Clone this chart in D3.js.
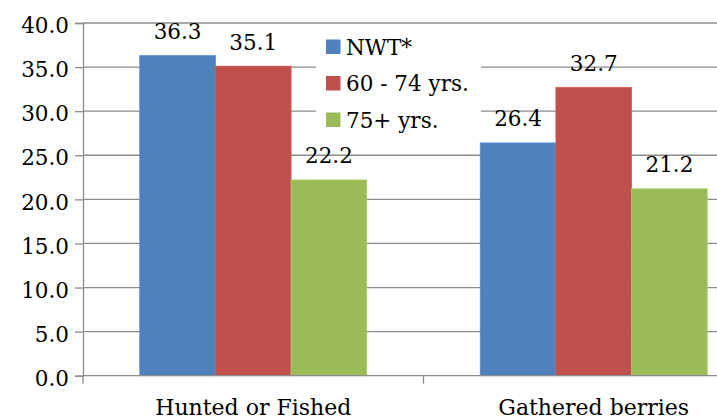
<!DOCTYPE html>
<html><head><meta charset="utf-8">
<script src="https://cdn.jsdelivr.net/npm/d3@7"></script>
<style>html,body{margin:0;padding:0;background:#fff;overflow:hidden}svg{display:block}</style>
</head><body>
<script>
const categories = ["Hunted or Fished", "Gathered berries"];
const seriesNames = ["NWT*", "60 - 74 yrs.", "75+ yrs."];
const nwt = [36.3, 26.4];
const age60to74 = [35.1, 32.7];
const age75plus = [22.2, 21.2];
const yTicks = [0, 5, 10, 15, 20, 25, 30, 35, 40];
const colors = ["#4F81BD", "#C0504D", "#9BBB59"];
const seriesValues = [nwt, age60to74, age75plus];

(function () {
const W = 717, H = 420;
const svg = d3.select("body").append("svg").attr("width", W).attr("height", H);
const font = "'DejaVu Serif', serif";
const fs = 21.5;
const pLeft = 83, pRight = 764, pTop = 23, pBottom = 375.7;

const y = d3.scaleLinear().domain([0, 40]).range([pBottom, pTop]);
const x0 = d3.scaleBand().domain(categories).range([pLeft, pRight]).paddingInner(0.3333).paddingOuter(0.16667);
const x1 = d3.scaleBand().domain(seriesNames).range([0, x0.bandwidth()]);

// gridlines
svg.append("g").selectAll("line").data(yTicks.filter(d => d > 0)).join("line")
  .attr("x1", pLeft).attr("x2", pRight).attr("y1", d => y(d)).attr("y2", d => y(d))
  .attr("stroke", "#8c8c8c").attr("stroke-width", 1.3);

// y axis
const yAxis = d3.axisLeft(y).tickValues(yTicks).tickFormat(d3.format(".1f")).tickSize(8).tickPadding(6);
const gy = svg.append("g").attr("transform", `translate(${pLeft},0)`).call(yAxis);
gy.select(".domain").attr("stroke", "#8c8c8c").attr("stroke-width", 1.3);
gy.selectAll(".tick line").attr("stroke", "#8c8c8c").attr("stroke-width", 1.3);
gy.selectAll("text").attr("font-family", font).attr("font-size", fs).attr("fill", "#000").attr("dy", "0.45em");

// bars
const groups = svg.append("g").selectAll("g").data(categories).join("g")
  .attr("transform", d => `translate(${x0(d)},0)`);
groups.each(function(cat, ci) {
  const g = d3.select(this);
  seriesNames.forEach((s, si) => {
    const v = seriesValues[si][ci];
    g.append("rect").attr("x", x1(s)).attr("width", x1.bandwidth())
      .attr("y", y(v)).attr("height", y(0) - y(v)).attr("fill", colors[si])
      .attr("stroke", d3.color(colors[si]).brighter(0.3)).attr("stroke-width", 0.8);
    g.append("text").attr("x", x1(s) + x1.bandwidth() / 2).attr("y", y(v) - 16.5)
      .attr("text-anchor", "middle").attr("font-family", font).attr("font-size", fs)
      .text(d3.format(".1f")(v));
  });
});

// x axis
const xTicks = [pLeft, (pLeft + pRight) / 2, pRight];
svg.append("line").attr("x1", pLeft).attr("x2", pRight).attr("y1", pBottom).attr("y2", pBottom)
  .attr("stroke", "#8c8c8c").attr("stroke-width", 1.3);
svg.append("g").selectAll("line").data(xTicks).join("line")
  .attr("x1", d => d).attr("x2", d => d).attr("y1", pBottom).attr("y2", pBottom + 8)
  .attr("stroke", "#8c8c8c").attr("stroke-width", 1.3);
svg.append("g").selectAll("text").data(categories).join("text")
  .attr("x", d => x0(d) + x0.bandwidth() / 2).attr("y", 415)
  .attr("text-anchor", "middle").attr("font-family", font).attr("font-size", 22).text(d => d);

// legend
const lg = svg.append("g");
lg.append("rect").attr("x", 316).attr("y", 27).attr("width", 165).attr("height", 108).attr("fill", "#fff");
seriesNames.forEach((s, i) => {
  const cy = 46.5 + i * 36.5;
  lg.append("rect").attr("x", 326).attr("y", cy - 7).attr("width", 14.5).attr("height", 14.5).attr("fill", colors[i]);
  lg.append("text").attr("x", 346).attr("y", cy + 8).attr("font-family", font).attr("font-size", fs).text(s);
});
})();
</script>
</body></html>
